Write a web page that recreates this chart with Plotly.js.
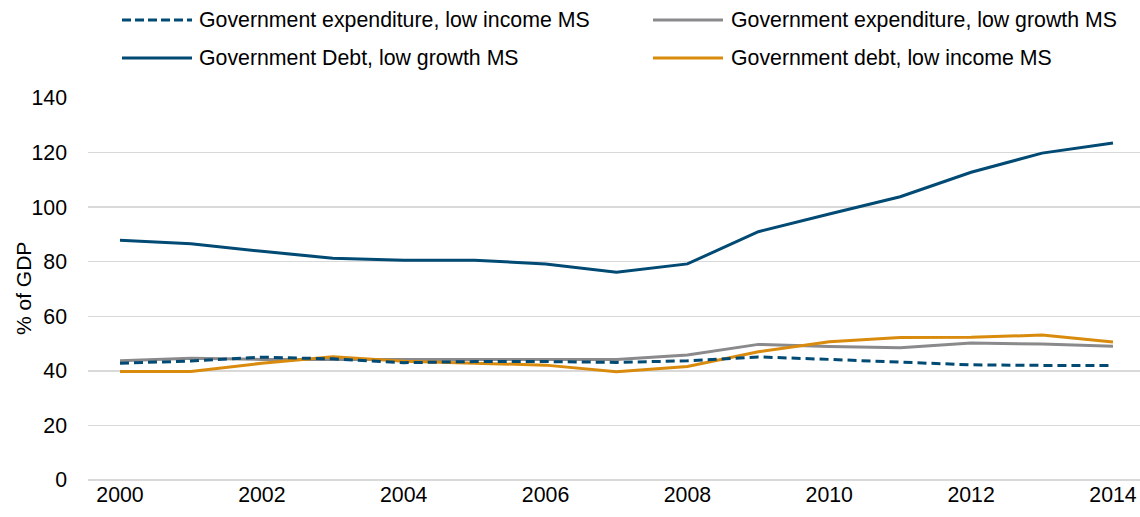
<!DOCTYPE html>
<html>
<head>
<meta charset="utf-8">
<script src="https://cdn.plot.ly/plotly-3.0.1.min.js"></script>
<style>html,body{margin:0;padding:0;background:#fff;}#chart{width:1140px;height:517px;}</style>
</head>
<body>
<div id="chart"></div>
<script>
const years = [2000,2001,2002,2003,2004,2005,2006,2007,2008,2009,2010,2011,2012,2013,2014];
const expLowIncome = [42.8,43.6,45.0,44.4,43.0,43.4,43.4,43.1,43.7,45.1,44.2,43.1,42.2,42.0,42.0];
const expLowGrowth = [43.7,44.6,44.2,44.2,44.2,44.2,44.2,44.2,45.8,49.7,48.9,48.5,50.2,49.8,49.0];
const debtLowGrowth = [87.9,86.6,83.8,81.3,80.5,80.5,79.2,76.1,79.2,91.0,97.5,103.8,112.8,119.8,123.5];
const debtLowIncome = [39.8,39.8,42.8,45.2,43.5,42.9,42.1,39.7,41.6,47.0,50.7,52.2,52.3,53.1,50.6];
const seriesNames = ["Government expenditure, low income MS","Government expenditure, low growth MS","Government Debt, low growth MS","Government debt, low income MS"];
const yAxisTitle = "% of GDP";

const navy = "#004a74", grey = "#8a8a8c", orange = "#d98b0d";
const FONT = "Liberation Sans, Arial, sans-serif";

const traces = [
  {x: years, y: debtLowGrowth, name: seriesNames[2], mode: "lines", line: {color: navy, width: 3}},
  {x: years, y: expLowGrowth, name: seriesNames[1], mode: "lines", line: {color: grey, width: 3}},
  {x: years, y: debtLowIncome, name: seriesNames[3], mode: "lines", line: {color: orange, width: 3}},
  {x: years, y: expLowIncome, name: seriesNames[0], mode: "lines", line: {color: navy, width: 3, dash: "9px,5px"}}
];

// custom legend (pixel -> paper conversion)
const L = 88, R = 0, T = 98, B = 37, W = 1140, H = 517;
const pw = W - L - R, ph = H - T - B;
const px = v => (v - L) / pw;
const py = v => (H - B - v) / ph;
const legendItems = [
  {name: seriesNames[0], color: navy, dash: "dash", x0: 122, x1: 192, tx: 197, y: 20},
  {name: seriesNames[1], color: grey, dash: "solid", x0: 653, x1: 723, tx: 729, y: 20},
  {name: seriesNames[2], color: navy, dash: "solid", x0: 122, x1: 192, tx: 197, y: 58},
  {name: seriesNames[3], color: orange, dash: "solid", x0: 653, x1: 723, tx: 729, y: 58}
];
const shapes = legendItems.map(it => ({
  type: "line", xref: "paper", yref: "paper",
  x0: px(it.x0), x1: px(it.x1), y0: py(it.y), y1: py(it.y),
  line: {color: it.color, width: 3, dash: it.dash === "dash" ? "9px,4px" : "solid"}
}));
const annotations = legendItems.map(it => ({
  xref: "paper", yref: "paper", x: px(it.tx), y: py(it.y),
  xanchor: "left", yanchor: "middle", showarrow: false, text: it.name,
  font: {family: FONT, size: 21.3, color: "#000"}
}));
annotations.push({
  xref: "paper", yref: "paper", x: px(23), y: 0.5, xanchor: "center", yanchor: "middle",
  textangle: -90, showarrow: false, text: yAxisTitle,
  font: {family: FONT, size: 21, color: "#000"}
});

const layout = {
  width: W, height: H,
  margin: {l: L, r: R, t: T, b: B, pad: 0},
  paper_bgcolor: "#fff", plot_bgcolor: "#fff",
  showlegend: false,
  font: {family: FONT, size: 21, color: "#000"},
  xaxis: {
    range: [1999.549, 2014.381], tickvals: [2000,2002,2004,2006,2008,2010,2012,2014],
    ticktext: ["2000","2002","2004","2006","2008","2010","2012","2014"],
    showgrid: false, zeroline: false, showline: false, ticks: "",
    tickfont: {family: FONT, size: 21.3, color: "#000"}
  },
  yaxis: {
    range: [0, 140], dtick: 20, tick0: 0,
    showgrid: true, gridcolor: "#d9d9d9", gridwidth: 1.5,
    zeroline: true, zerolinecolor: "#d9d9d9", zerolinewidth: 1.5,
    showline: false, ticks: "", ticklabelstandoff: 20,
    tickfont: {family: FONT, size: 21.3, color: "#000"}
  },
  shapes: shapes,
  annotations: annotations
};

Plotly.newPlot("chart", traces, layout, {displayModeBar: false, staticPlot: true});
</script>
</body>
</html>
